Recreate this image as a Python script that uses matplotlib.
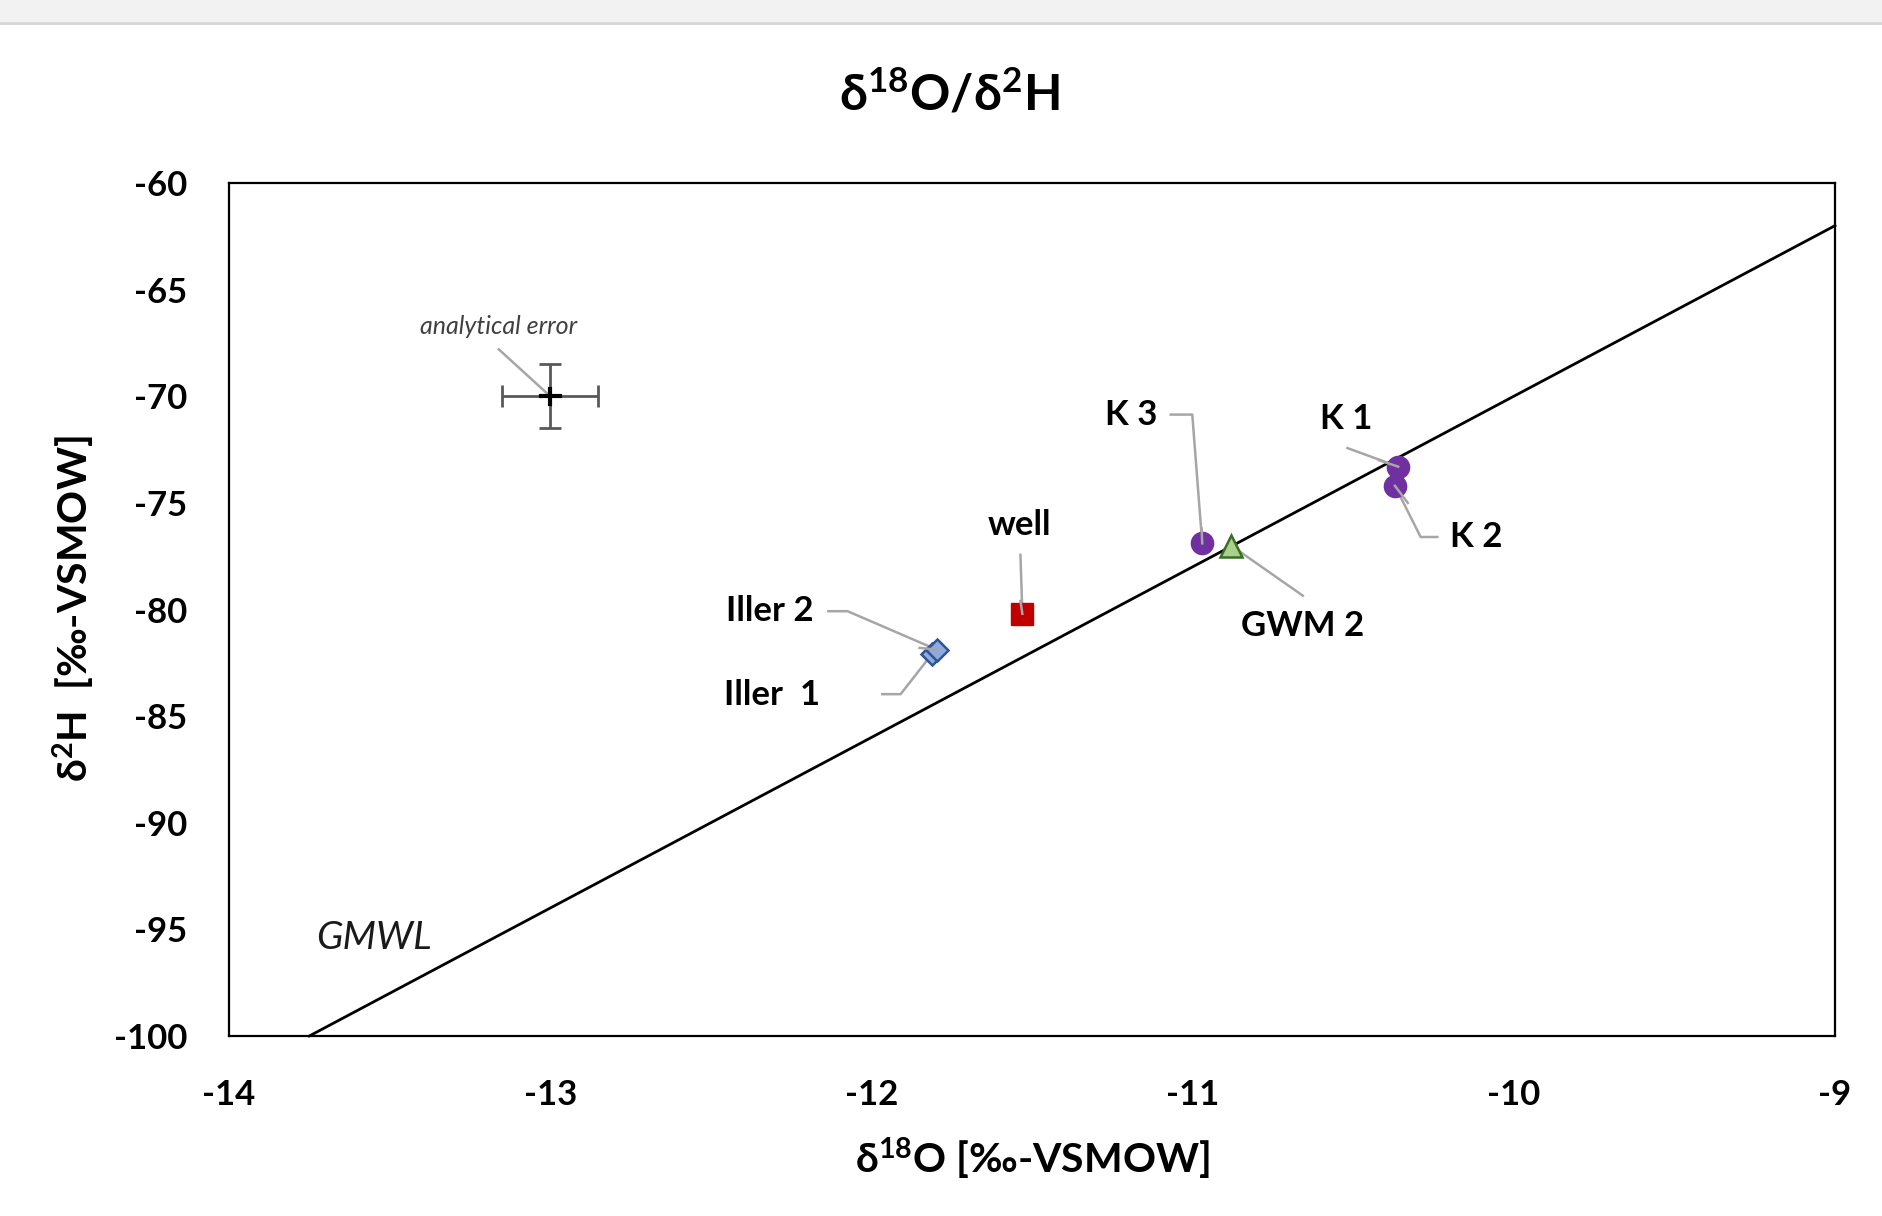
import matplotlib
matplotlib.use("Agg")
import matplotlib.pyplot as plt
from matplotlib.patches import Rectangle
from matplotlib.lines import Line2D

plt.rcParams['font.family'] = ['Lato', 'DejaVu Sans']
plt.rcParams['mathtext.fontset'] = 'custom'
plt.rcParams['mathtext.rm'] = 'Lato:bold'
plt.rcParams['mathtext.bf'] = 'Lato:bold'
plt.rcParams['mathtext.it'] = 'Lato:bold:italic'

# ---- data ----
sample_names = ['Iller 1', 'Iller 2', 'well', 'K 3', 'GWM 2', 'K 1', 'K 2']
d18O = [-11.812, -11.797, -11.53, -10.97, -10.88, -10.36, -10.37]
d2H = [-82.1, -81.88, -80.2, -76.9, -77.0, -73.3, -74.2]
groups = ['Iller', 'Iller', 'well', 'K', 'GWM', 'K', 'K']

gmwl_x = [-13.75, -9.0]
gmwl_slope = 8.0
gmwl_intercept = 10.0

err_x, err_y = -13.0, -70.0
err_dx, err_dy = 0.15, 1.5

x_ticks = [-14, -13, -12, -11, -10, -9]
y_ticks = [-60, -65, -70, -75, -80, -85, -90, -95, -100]

styles = {
    'Iller': dict(marker='D', markersize=11, markerfacecolor='#8FAADC', markeredgecolor='#2F5597', markeredgewidth=1.8),
    'well': dict(marker='s', markersize=16, markerfacecolor='#C00000', markeredgecolor='#C00000', markeredgewidth=1),
    'K': dict(marker='o', markersize=16, markerfacecolor='#7030A0', markeredgecolor='#7030A0', markeredgewidth=1),
    'GWM': dict(marker='^', markersize=16, markerfacecolor='#A9D18E', markeredgecolor='#3B6E22', markeredgewidth=1.8),
}

fig = plt.figure(figsize=(18.83, 12.16), dpi=100)
fig.patch.set_facecolor('white')
# top grey strip
fig.add_artist(Rectangle((0, 1 - 22 / 1216), 1, 22 / 1216, transform=fig.transFigure,
                         facecolor='#F2F2F2', edgecolor='none'))
fig.add_artist(Line2D([0, 1], [1 - 23 / 1216] * 2, transform=fig.transFigure, color='#D6D6D6', lw=2))

ax = fig.add_axes([229 / 1883, 1 - 1036 / 1216, (1835 - 229) / 1883, (1036 - 183) / 1216])
ax.set_xlim(-14, -9)
ax.set_ylim(-100, -60)
ax.set_xticks(x_ticks)
ax.set_yticks(y_ticks)
ax.set_xticklabels([str(v) for v in x_ticks])
ax.set_yticklabels([str(v) for v in y_ticks])
ax.tick_params(length=0, labelsize=25)
ax.tick_params(axis='x', pad=31)
ax.tick_params(axis='y', pad=30)
for lab in ax.get_xticklabels() + ax.get_yticklabels():
    lab.set_fontweight('bold')
for sp in ax.spines.values():
    sp.set_linewidth(1.6)
    sp.set_color('black')

# GMWL
gy = [gmwl_slope * v + gmwl_intercept for v in gmwl_x]
ax.plot(gmwl_x, gy, color='black', lw=2.0, zorder=2, clip_on=False)
ax.text(-13.55, -95.4, 'GMWL', fontsize=28, style='italic', color='#1a1a1a', ha='center', va='center')

# analytical error
ax.errorbar([err_x], [err_y], xerr=[err_dx], yerr=[err_dy], fmt='none', ecolor='#595959',
            elinewidth=2, capsize=8, capthick=2, zorder=3)
ax.plot([err_x - 0.03, err_x + 0.03], [err_y, err_y], color='black', lw=3, zorder=4)
ax.plot([err_x, err_x], [err_y - 0.35, err_y + 0.35], color='black', lw=3, zorder=4)
ax.plot([-13.16, err_x], [-67.8, err_y], color='#A6A6A6', lw=1.8, zorder=3)
ax.text(-13.162, -66.75, 'analytical error', fontsize=18, style='italic', color='#404040',
        ha='center', va='center')

lead = dict(color='#A6A6A6', lw=1.8, zorder=3)
# leader lines
ax.plot([-11.068, -11.001, d18O[3]], [-70.86, -70.86, d2H[3]], **lead)
ax.plot([-10.518, d18O[5]], [-72.43, d2H[5]], **lead)
ax.plot([-10.238, -10.290, d18O[6]], [-76.6, -76.6, d2H[6]], **lead)
ax.plot([-11.536, d18O[2]], [-77.44, d2H[2]], **lead)
ax.plot([-10.657, d18O[4]], [-79.35, d2H[4]], **lead)
ax.plot([-12.134, -12.074, d18O[1]], [-80.08, -80.08, d2H[1]], **lead)
ax.plot([-11.966, -11.909, d18O[0]], [-83.97, -83.97, d2H[0]], **lead)

# points
for xv, yv, g in zip(d18O, d2H, groups):
    ax.plot([xv], [yv], linestyle='none', zorder=5, **styles[g])

# leader tips drawn over the markers (as in the original)
top = dict(lead, zorder=6)
ax.plot([-10.42, d18O[5]], [-73.0, d2H[5]], **top)
ax.plot([-10.33, d18O[6]], [-75.0, d2H[6]], **top)
ax.plot([-11.536, d18O[2]], [-79.6, d2H[2]], **top)
ax.plot([-10.972, d18O[3]], [-76.2, d2H[3]], **top)
ax.plot([-11.85, d18O[1]], [-81.8, d2H[1]], **top)

# labels
lab_kw = dict(fontsize=25, fontweight='bold', ha='center', va='center', color='black')
ax.text(-11.192, -70.86, 'K 3', **lab_kw)
ax.text(-10.522, -71.08, 'K 1', **lab_kw)
ax.text(-10.118, -76.60, 'K 2', **lab_kw)
ax.text(-11.539, -76.03, 'well', **lab_kw)
ax.text(-10.657, -80.76, 'GWM 2', **lab_kw)
ax.text(-12.317, -80.08, 'Iller 2', **lab_kw)
ax.text(-12.310, -84.02, 'Iller  1', **lab_kw)

# titles
fig.text(949 / 1883, 1 - 94 / 1216, r'δ$^{18}$O/δ$^{2}$H', fontsize=36, fontweight='bold',
         ha='center', va='center')
fig.text(1032 / 1883, 1 - 1159 / 1216, r'δ$^{18}$O [‰-VSMOW]', fontsize=29.5, fontweight='bold',
         ha='center', va='center')
fig.text(74 / 1883, 1 - 609 / 1216, r'δ$^{2}$H  [‰-VSMOW]', fontsize=29.5, fontweight='bold',
         ha='center', va='center', rotation=90)

fig.savefig('out.png', dpi=100)
